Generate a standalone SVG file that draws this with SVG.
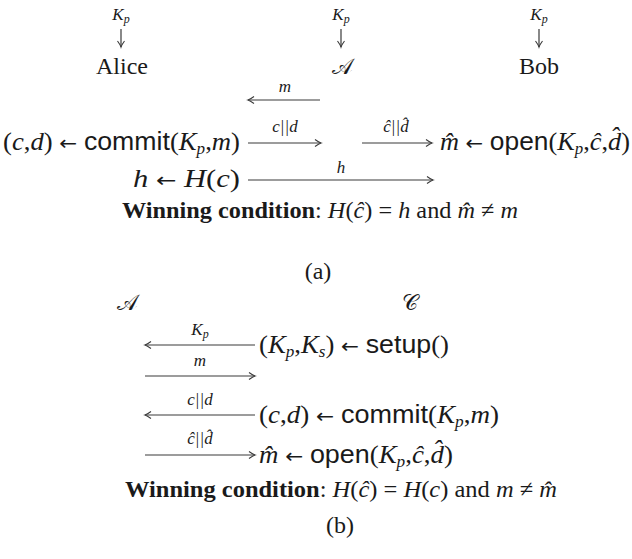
<svg xmlns="http://www.w3.org/2000/svg" width="632" height="559" viewBox="0 0 632 559">
<defs>
<style>
text{font-family:"Liberation Serif","Times New Roman",serif;font-size:24px;fill:#1a1a1a}
.m{font-size:25px}
.i{font-style:italic}
.sf{font-family:"Liberation Sans",Arial,sans-serif}
.ar{font-family:"DejaVu Sans",sans-serif;font-size:20px}
.b{font-weight:bold}
.lb{font-size:17px;font-style:italic}
.cal{font-family:"DejaVu Serif","DejaVu Sans",serif;font-size:22px}
.conn path{stroke:#3a3a3a;stroke-width:1.2;fill:none}
</style>
<marker id="ah" viewBox="-8 -5 10 10" refX="0" refY="0" markerWidth="10" markerHeight="10" markerUnits="userSpaceOnUse" orient="auto">
<path d="M-6,-3.5 Q-2,-0.6 0,0 Q-2,0.6 -6,3.5" fill="none" stroke="#3a3a3a" stroke-width="1.1"/>
</marker>
</defs>
<g id="partA">
<g id="alice">
<text class="lb" x="121" y="20" text-anchor="middle">K<tspan font-size="12" dy="3">p</tspan></text>
<text x="122" y="74" text-anchor="middle">Alice</text>
</g>
<g id="adv">
<text class="lb" x="341" y="20" text-anchor="middle">K<tspan font-size="12" dy="3">p</tspan></text>
<text class="cal" x="342" y="74" text-anchor="middle">𝒜</text>
</g>
<g id="bob">
<text class="lb" x="539" y="20" text-anchor="middle">K<tspan font-size="12" dy="3">p</tspan></text>
<text x="539" y="74" text-anchor="middle">Bob</text>
</g>
<g id="commitA">
<text class="m" x="3" y="150" textLength="237" lengthAdjust="spacingAndGlyphs">(<tspan class="i">c</tspan>,<tspan class="i">d</tspan>) <tspan class="ar">←</tspan> <tspan class="sf">commit</tspan>(<tspan class="i">K</tspan><tspan font-size="16" class="i" dy="4">p</tspan><tspan dy="-4">,</tspan><tspan class="i">m</tspan>)</text>
</g>
<g id="openA">
<text class="m" x="440" y="150" textLength="190" lengthAdjust="spacingAndGlyphs"><tspan class="i">m̂</tspan> <tspan class="ar">←</tspan> <tspan class="sf">open</tspan>(<tspan class="i">K</tspan><tspan font-size="16" class="i" dy="4">p</tspan><tspan dy="-4">,</tspan><tspan class="i">ĉ</tspan>,<tspan class="i">d̂</tspan>)</text>
</g>
<g id="hashA">
<text class="m" x="133" y="187" textLength="107" lengthAdjust="spacingAndGlyphs"><tspan class="i">h</tspan> <tspan class="ar">←</tspan> <tspan class="i">H</tspan>(<tspan class="i">c</tspan>)</text>
</g>
<g id="winA">
<text x="122" y="218" textLength="396" lengthAdjust="spacingAndGlyphs"><tspan class="b">Winning condition</tspan>: <tspan class="i">H</tspan>(<tspan class="i">ĉ</tspan>) = <tspan class="i">h</tspan> and <tspan class="i">m̂</tspan> ≠ <tspan class="i">m</tspan></text>
</g>
<text x="318" y="279" text-anchor="middle">(a)</text>
</g>
<g id="partB">
<g id="advB"><text class="cal" x="127" y="310" text-anchor="middle">𝒜</text></g>
<g id="chal"><text class="cal" x="410" y="310" text-anchor="middle">𝒞</text></g>
<g id="setupB">
<text class="m" x="259" y="353" textLength="190" lengthAdjust="spacingAndGlyphs">(<tspan class="i">K</tspan><tspan font-size="16" class="i" dy="4">p</tspan><tspan dy="-4">,</tspan><tspan class="i">K</tspan><tspan font-size="16" class="i" dy="4">s</tspan><tspan dy="-4">)</tspan> <tspan class="ar">←</tspan> <tspan class="sf">setup</tspan>()</text>
</g>
<g id="commitB">
<text class="m" x="259" y="423" textLength="240" lengthAdjust="spacingAndGlyphs">(<tspan class="i">c</tspan>,<tspan class="i">d</tspan>) <tspan class="ar">←</tspan> <tspan class="sf">commit</tspan>(<tspan class="i">K</tspan><tspan font-size="16" class="i" dy="4">p</tspan><tspan dy="-4">,</tspan><tspan class="i">m</tspan>)</text>
</g>
<g id="openB">
<text class="m" x="259" y="463" textLength="194" lengthAdjust="spacingAndGlyphs"><tspan class="i">m̂</tspan> <tspan class="ar">←</tspan> <tspan class="sf">open</tspan>(<tspan class="i">K</tspan><tspan font-size="16" class="i" dy="4">p</tspan><tspan dy="-4">,</tspan><tspan class="i">ĉ</tspan>,<tspan class="i">d̂</tspan>)</text>
</g>
<g id="winB">
<text x="125" y="497" textLength="432" lengthAdjust="spacingAndGlyphs"><tspan class="b">Winning condition</tspan>: <tspan class="i">H</tspan>(<tspan class="i">ĉ</tspan>) = <tspan class="i">H</tspan>(<tspan class="i">c</tspan>) and <tspan class="i">m</tspan> ≠ <tspan class="i">m̂</tspan></text>
</g>
<text x="340" y="533" text-anchor="middle">(b)</text>
</g>
<g id="connectors" class="conn">
<path d="M121,29 V47" marker-end="url(#ah)"/>
<path d="M341,29 V47" marker-end="url(#ah)"/>
<path d="M539,29 V47" marker-end="url(#ah)"/>
<path d="M320,100 H248" marker-end="url(#ah)"/>
<path d="M248,143 H321" marker-end="url(#ah)"/>
<path d="M362,143 H432" marker-end="url(#ah)"/>
<path d="M248,180 H433" marker-end="url(#ah)"/>
<path d="M255,345 H145" marker-end="url(#ah)"/>
<path d="M145,376 H255" marker-end="url(#ah)"/>
<path d="M255,415 H145" marker-end="url(#ah)"/>
<path d="M145,455 H255" marker-end="url(#ah)"/>
</g>
<g id="labels">
<text class="lb" x="285" y="92" text-anchor="middle">m</text>
<text class="lb" x="285" y="132" text-anchor="middle">c||d</text>
<text class="lb" x="396" y="132" text-anchor="middle">ĉ||d̂</text>
<text class="lb" x="341" y="173" text-anchor="middle">h</text>
<text class="lb" x="200" y="335" text-anchor="middle">K<tspan font-size="12" dy="3">p</tspan></text>
<text class="lb" x="200" y="366" text-anchor="middle">m</text>
<text class="lb" x="200" y="405" text-anchor="middle">c||d</text>
<text class="lb" x="200" y="444" text-anchor="middle">ĉ||d̂</text>
</g>
</svg>
